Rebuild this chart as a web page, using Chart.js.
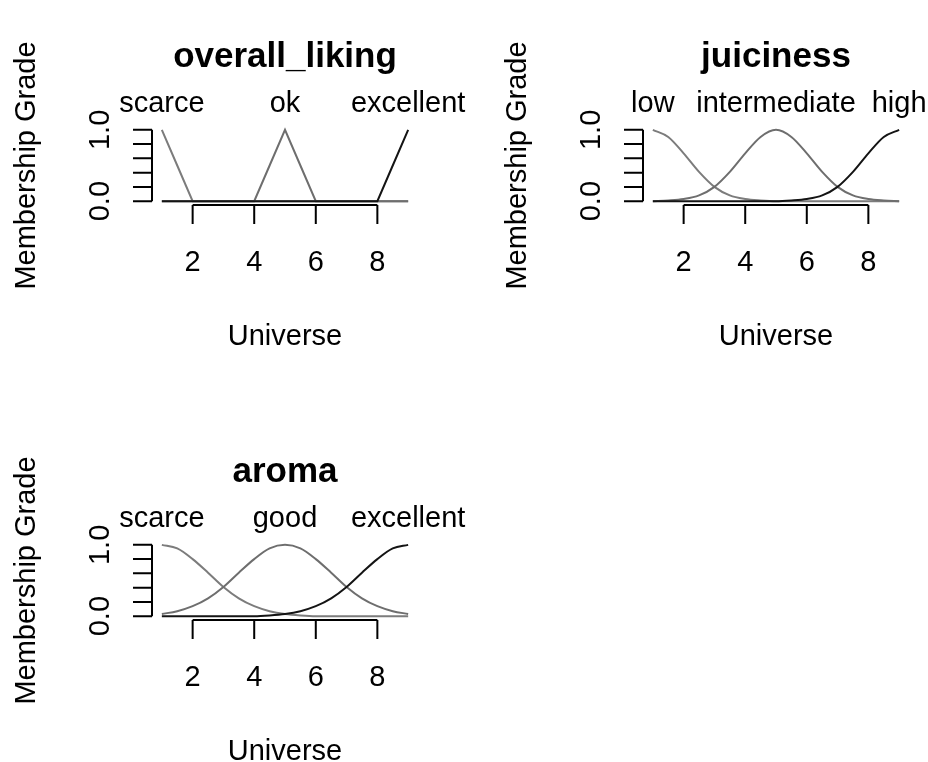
<!DOCTYPE html>
<html lang="en">
<head>
  <meta charset="UTF-8">
  <title>Fuzzy variables</title>
  <script src="https://cdn.jsdelivr.net/npm/chart.js"></script>
  <style>
    body { margin: 0; background: #fff; }
    .panel { position: absolute; }
  </style>
</head>
<body>
  <canvas id="liking" class="panel" width="475" height="381" style="left:0;top:0"></canvas>
  <canvas id="juiciness" class="panel" width="437" height="381" style="left:491px;top:0"></canvas>
  <canvas id="aroma" class="panel" width="475" height="347" style="left:0;top:415px"></canvas>
  <script>
    // universe grid shared by all three variables
    const universe = [1, 1.5, 2, 2.5, 3, 3.5, 4, 4.5, 5, 5.5, 6, 6.5, 7, 7.5, 8, 8.5, 9];
    const xTicks = [2, 4, 6, 8];
    const yTicks = [0, 0.2, 0.4, 0.6, 0.8, 1];
    const yTickLabels = { 0: '0.0', 1: '1.0' };

    // overall_liking (triangular sets)
    const likingLabels = ['scarce', 'ok', 'excellent'];
    const likingPeaks = [1, 5, 9];
    const likingScarce = [1.0, 0.5, 0, 0, 0, 0, 0, 0, 0, 0, 0, 0, 0, 0, 0, 0, 0];
    const likingOk = [0, 0, 0, 0, 0, 0, 0, 0.5, 1.0, 0.5, 0, 0, 0, 0, 0, 0, 0];
    const likingExcellent = [0, 0, 0, 0, 0, 0, 0, 0, 0, 0, 0, 0, 0, 0, 0, 0.5, 1.0];

    // juiciness (narrow bell curves)
    const juicyLabels = ['low', 'intermediate', 'high'];
    const juicyPeaks = [1, 5, 9];
    const juicyLow = [1.00, 0.90, 0.67, 0.41, 0.20, 0.08, 0.03, 0.01, 0, 0, 0, 0, 0, 0, 0, 0, 0];
    const juicyMid = [0, 0.01, 0.03, 0.08, 0.20, 0.41, 0.67, 0.90, 1.00, 0.90, 0.67, 0.41, 0.20, 0.08, 0.03, 0.01, 0];
    const juicyHigh = [0, 0, 0, 0, 0, 0, 0, 0, 0, 0.01, 0.03, 0.08, 0.20, 0.41, 0.67, 0.90, 1.00];

    // aroma (wider bell curves)
    const aromaLabels = ['scarce', 'good', 'excellent'];
    const aromaPeaks = [1, 5, 9];
    const aromaScarce = [1.00, 0.95, 0.80, 0.61, 0.41, 0.25, 0.14, 0.07, 0.03, 0.01, 0, 0, 0, 0, 0, 0, 0];
    const aromaGood = [0.03, 0.07, 0.14, 0.25, 0.41, 0.61, 0.80, 0.95, 1.00, 0.95, 0.80, 0.61, 0.41, 0.25, 0.14, 0.07, 0.03];
    const aromaExcellent = [0, 0, 0, 0, 0, 0, 0, 0.01, 0.03, 0.07, 0.14, 0.25, 0.41, 0.61, 0.80, 0.95, 1.00];

    const FONT = "'Liberation Sans', Arial, sans-serif";
    const colors = ['#7c7c7c', '#6e6e6e', '#141414'];

    // R base-graphics look: short axes, vertical y labels, set names on top
    const rStyle = {
      id: 'rStyle',
      afterDraw(chart, args, opts) {
        const { ctx, chartArea: a, scales: { x, y } } = chart;
        ctx.save();
        ctx.strokeStyle = '#000';
        ctx.fillStyle = '#000';
        ctx.lineWidth = 2;

        const xb = a.bottom + 1;
        ctx.beginPath();
        ctx.moveTo(x.getPixelForValue(xTicks[0]), xb);
        ctx.lineTo(x.getPixelForValue(xTicks[xTicks.length - 1]), xb);
        xTicks.forEach(v => {
          const px = x.getPixelForValue(v);
          ctx.moveTo(px, xb);
          ctx.lineTo(px, xb + 19);
        });
        ctx.moveTo(a.left, y.getPixelForValue(yTicks[0]));
        ctx.lineTo(a.left, y.getPixelForValue(yTicks[yTicks.length - 1]));
        yTicks.forEach(v => {
          const py = y.getPixelForValue(v);
          ctx.moveTo(a.left, py);
          ctx.lineTo(a.left - 19, py);
        });
        ctx.stroke();

        ctx.textAlign = 'center';
        ctx.textBaseline = 'alphabetic';
        const mid = (a.left + a.right) / 2;

        ctx.font = 'bold 35px ' + FONT;
        ctx.fillText(opts.title, mid, a.top - 60);

        ctx.font = '29px ' + FONT;
        opts.labels.forEach((lab, i) => {
          ctx.fillText(lab, x.getPixelForValue(opts.peaks[i]), a.top - 15);
        });
        xTicks.forEach(v => ctx.fillText(String(v), x.getPixelForValue(v), a.bottom + 67));
        ctx.fillText('Universe', mid, a.bottom + 141);

        Object.keys(yTickLabels).forEach(k => {
          ctx.save();
          ctx.translate(a.left - 43, y.getPixelForValue(Number(k)));
          ctx.rotate(-Math.PI / 2);
          ctx.fillText(yTickLabels[k], 0, 0);
          ctx.restore();
        });

        ctx.save();
        ctx.translate(35, (a.top + a.bottom) / 2);
        ctx.rotate(-Math.PI / 2);
        ctx.fillText('Membership Grade', 0, 0);
        ctx.restore();

        ctx.restore();
      }
    };

    const makePanel = (id, title, labels, peaks, series, smooth) => {
      const canvas = document.getElementById(id);
      const datasets = series.map((vals, i) => ({
        label: labels[i],
        data: universe.map((u, j) => ({ x: u, y: vals[j] })),
        borderColor: colors[i],
        borderWidth: 2,
        pointRadius: 0,
        fill: false,
        tension: smooth ? 0.4 : 0,
        cubicInterpolationMode: smooth ? 'monotone' : 'default',
        order: series.length - i
      }));
      return new Chart(canvas, {
        type: 'line',
        data: { datasets },
        options: {
          responsive: false,
          animation: false,
          layout: {
            padding: { left: 152, top: 127, right: canvas.width - 418, bottom: canvas.height - 204 }
          },
          scales: {
            x: { type: 'linear', min: 0.68, max: 9.32, display: false },
            y: { type: 'linear', min: -0.04, max: 1.04, display: false }
          },
          plugins: {
            legend: { display: false },
            tooltip: { enabled: false },
            rStyle: { title, labels, peaks }
          }
        },
        plugins: [rStyle]
      });
    };

    makePanel('liking', 'overall_liking', likingLabels, likingPeaks,
      [likingScarce, likingOk, likingExcellent], false);
    makePanel('juiciness', 'juiciness', juicyLabels, juicyPeaks,
      [juicyLow, juicyMid, juicyHigh], true);
    makePanel('aroma', 'aroma', aromaLabels, aromaPeaks,
      [aromaScarce, aromaGood, aromaExcellent], true);
  </script>
</body>
</html>
